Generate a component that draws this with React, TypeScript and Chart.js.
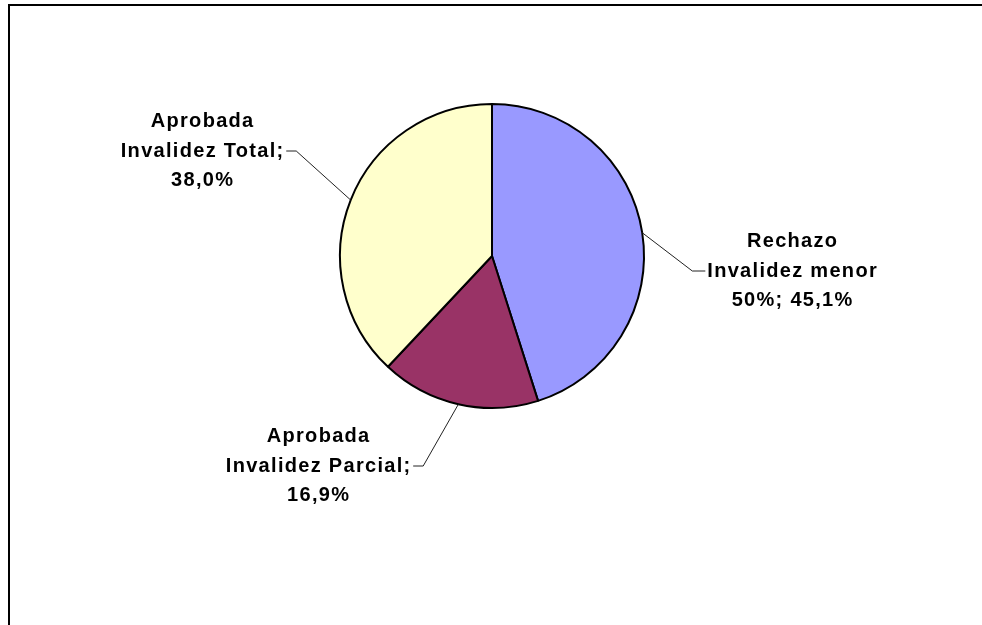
import React, { useEffect, useRef } from "react";
import { Chart, registerables } from "chart.js";

Chart.register(...registerables);

const categories = [
  "Rechazo Invalidez menor 50%",
  "Aprobada Invalidez Parcial",
  "Aprobada Invalidez Total",
];
const categoryLines = [
  ["Rechazo", "Invalidez menor", "50%"],
  ["Aprobada", "Invalidez Parcial"],
  ["Aprobada", "Invalidez Total"],
];
const values = [45.1, 16.9, 38.0];
const colors = ["#9999FF", "#993366", "#FFFFCC"];

// label block layout (center x, middle-line y, side of pie)
const labelLayout = [
  { cx: 792, cy: 271, side: "right" },
  { cx: 318, cy: 466, side: "left" },
  { cx: 202, cy: 151, side: "left" },
];

const FONT = "bold 20px 'Liberation Sans', Arial, sans-serif";
const LS = 1.3;
const LINE_H = 29.5;
const MAX_W = 178;

function fmtPct(v: number) {
  return v.toFixed(1).replace(".", ",") + "%";
}

const framePlugin = {
  id: "frame",
  beforeDraw(chart: any) {
    const ctx = chart.ctx;
    ctx.save();
    ctx.fillStyle = "#ffffff";
    ctx.fillRect(0, 0, chart.width, chart.height);
    ctx.strokeStyle = "#000000";
    ctx.lineWidth = 2;
    ctx.beginPath();
    ctx.moveTo(9, chart.height);
    ctx.lineTo(9, 5);
    ctx.lineTo(chart.width, 5);
    ctx.stroke();
    ctx.restore();
  },
};

const labelPlugin = {
  id: "pieLabels",
  afterDatasetsDraw(chart: any) {
    const ctx = chart.ctx;
    const meta = chart.getDatasetMeta(0);
    ctx.save();
    ctx.font = FONT;
    (ctx as any).letterSpacing = LS + "px";
    ctx.fillStyle = "#000000";
    ctx.textBaseline = "middle";
    ctx.textAlign = "left";
    meta.data.forEach((arc: any, i: number) => {
      const { x, y, startAngle, endAngle, outerRadius } = arc.getProps(
        ["x", "y", "startAngle", "endAngle", "outerRadius"],
        true
      );
      const mid = (startAngle + endAngle) / 2;
      const px = x + Math.cos(mid) * outerRadius;
      const py = y + Math.sin(mid) * outerRadius;

      const lines = categoryLines[i].slice();
      const last = lines[lines.length - 1] + "; " + fmtPct(values[i]);
      const w = (s: string) => ctx.measureText(s).width - LS;
      if (w(last) <= MAX_W) {
        lines[lines.length - 1] = last;
      } else {
        lines[lines.length - 1] = lines[lines.length - 1] + ";";
        lines.push(fmtPct(values[i]));
      }
      const lay = labelLayout[i];
      const midIdx = 1;
      lines.forEach((ln, k) => {
        const lw = w(ln);
        ctx.fillText(ln, lay.cx - lw / 2, lay.cy + (k - midIdx) * LINE_H);
      });
      const mw = w(lines[midIdx]);
      let ex: number, sx: number;
      if (lay.side === "right") {
        sx = lay.cx - mw / 2 - 2;
        ex = sx - 13;
      } else {
        sx = lay.cx + mw / 2 + 3;
        ex = sx + 10;
      }
      ctx.strokeStyle = "#222222";
      ctx.lineWidth = 1;
      ctx.beginPath();
      ctx.moveTo(px, py);
      ctx.lineTo(ex, lay.cy);
      ctx.lineTo(sx, lay.cy);
      ctx.stroke();
    });
    ctx.restore();
  },
};

export default function App() {
  const ref = useRef<HTMLCanvasElement | null>(null);
  useEffect(() => {
    if (!ref.current) return;
    const chart = new Chart(ref.current, {
      type: "pie",
      data: {
        labels: categories,
        datasets: [
          {
            data: values,
            backgroundColor: colors,
            borderColor: "#000000",
            borderWidth: 2,
          },
        ],
      },
      options: {
        responsive: false,
        animation: false,
        radius: 152,
        layout: { padding: { left: 340, right: 338, top: 104, bottom: 217 } },
        plugins: {
          legend: { display: false },
          tooltip: { enabled: false },
        },
      } as any,
      plugins: [framePlugin, labelPlugin],
    });
    return () => chart.destroy();
  }, []);
  return (
    <div style={{ position: "absolute", left: 0, top: 0, width: 982, height: 625, background: "#fff" }}>
      <canvas ref={ref} width={982} height={625} style={{ width: 982, height: 625, display: "block" }} />
    </div>
  );
}
